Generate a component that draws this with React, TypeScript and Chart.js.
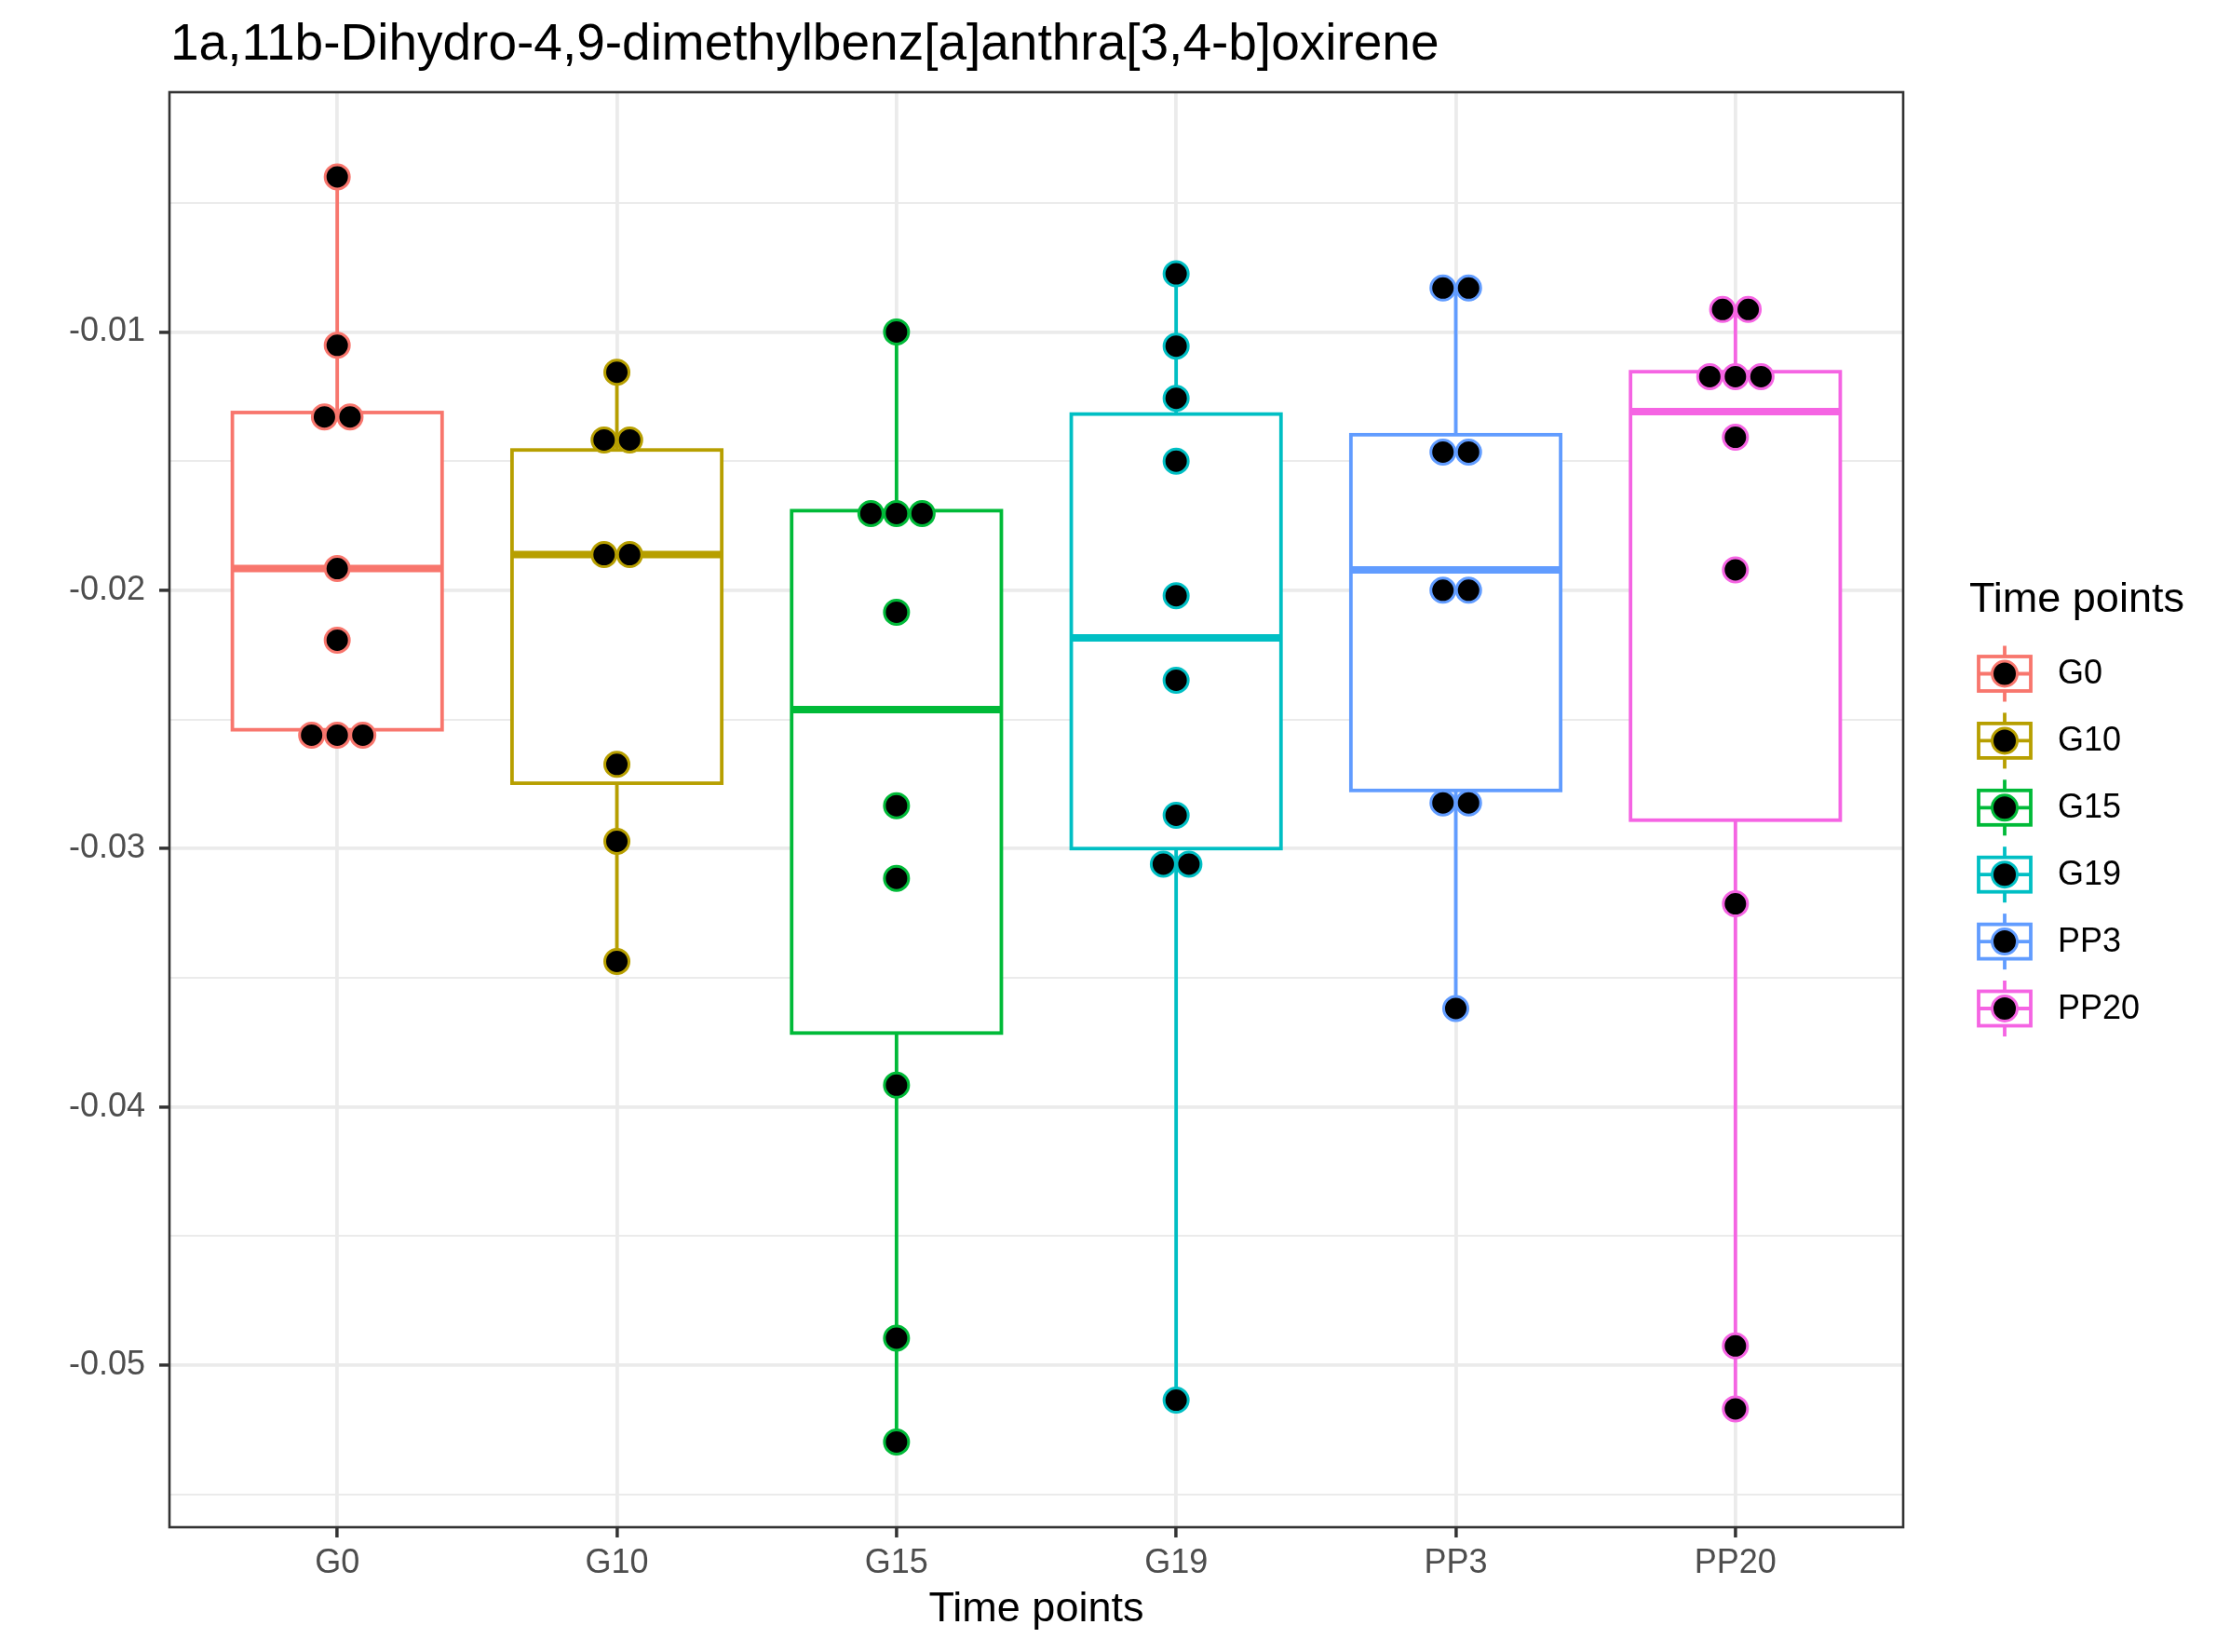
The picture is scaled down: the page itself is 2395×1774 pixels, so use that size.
import React, { useEffect, useRef } from 'react';
import { Chart, registerables } from 'chart.js';

Chart.register(...registerables);

// ---------------- data ----------------
const chartTitle = '1a,11b-Dihydro-4,9-dimethylbenz[a]anthra[3,4-b]oxirene';
const xAxisTitle = 'Time points';
const legendTitle = 'Time points';

const categories = ['G0', 'G10', 'G15', 'G19', 'PP3', 'PP20'];
const groupColors = ['#F8766D', '#B79F00', '#00BA38', '#00BFC4', '#619CFF', '#F564E3'];

// dot positions (repeated values are stacked side by side)
const dotsG0 = [-0.0040, -0.01052, -0.01329, -0.01329, -0.01916, -0.02193, -0.02561, -0.02561, -0.02561];
const dotsG10 = [-0.01156, -0.01418, -0.01418, -0.01862, -0.01862, -0.02674, -0.02972, -0.03437];
const dotsG15 = [-0.0100, -0.01703, -0.01703, -0.01703, -0.02085, -0.02834, -0.03115, -0.03916, -0.04895, -0.05297];
const dotsG19 = [-0.00775, -0.01055, -0.01257, -0.0150, -0.02021, -0.02348, -0.02871, -0.0306, -0.0306, -0.05135];
const dotsPP3 = [-0.0083, -0.0083, -0.01465, -0.01465, -0.0200, -0.0200, -0.02823, -0.02823, -0.03619];
const dotsPP20 = [-0.00913, -0.00913, -0.01173, -0.01173, -0.01173, -0.01408, -0.01921, -0.03214, -0.04925, -0.05169];
const dotSeries = [dotsG0, dotsG10, dotsG15, dotsG19, dotsPP3, dotsPP20];

// box statistics
const boxUpper = [-0.01312, -0.01457, -0.01692, -0.01318, -0.01398, -0.01154];
const boxMedian = [-0.01916, -0.01862, -0.02462, -0.02184, -0.01921, -0.01308];
const boxLower = [-0.0254, -0.02747, -0.03714, -0.0300, -0.02775, -0.0289];
const whiskerHigh = [-0.0040, -0.01156, -0.0100, -0.00775, -0.0083, -0.00913];
const whiskerLow = [-0.0254, -0.03437, -0.05297, -0.05135, -0.03619, -0.05169];

// axis ticks
const yMajorTicks = [-0.05, -0.04, -0.03, -0.02, -0.01];
const yMajorLabels = ['-0.05', '-0.04', '-0.03', '-0.02', '-0.01'];
const yMinorTicks = [-0.055, -0.045, -0.035, -0.025, -0.015, -0.005];
const yMin = -0.05627;
const yMax = -0.00072;

// ---------------- style / layout ----------------
const W = 2395;
const H = 1774;
const FONT = '"Liberation Sans", Arial, Helvetica, sans-serif';
const PANEL = { left: 182, top: 99, right: 2044, bottom: 1640 };
const BOX_HALF = 0.375;
const DOT_STEP = 0.0916;
const LINE_W = 3.8;
const MEDIAN_W = 8;

const isMajor = (v: number) => yMajorTicks.some((m) => Math.abs(m - v) < 1e-9);

function stackedPoints(values: number[], index: number) {
  const counts = new Map<number, number>();
  values.forEach((v) => counts.set(v, (counts.get(v) || 0) + 1));
  const seen = new Map<number, number>();
  return values.map((v) => {
    const n = counts.get(v) as number;
    const k = seen.get(v) || 0;
    seen.set(v, k + 1);
    return { x: index + (k - (n - 1) / 2) * DOT_STEP, y: v };
  });
}

function line(ctx: CanvasRenderingContext2D, x1: number, y1: number, x2: number, y2: number) {
  ctx.beginPath();
  ctx.moveTo(x1, y1);
  ctx.lineTo(x2, y2);
  ctx.stroke();
}

const ggPlugin = {
  id: 'ggBoxes',
  beforeDatasetsDraw(chart: any) {
    const { ctx, scales } = chart;
    const x = scales.x;
    const y = scales.y;
    ctx.save();
    ctx.lineCap = 'butt';
    ctx.lineJoin = 'miter';
    categories.forEach((_, i) => {
      const col = groupColors[i];
      const cx = x.getPixelForValue(i);
      const xl = x.getPixelForValue(i - BOX_HALF);
      const xr = x.getPixelForValue(i + BOX_HALF);
      const yU = y.getPixelForValue(boxUpper[i]);
      const yL = y.getPixelForValue(boxLower[i]);
      const yM = y.getPixelForValue(boxMedian[i]);
      const yWH = y.getPixelForValue(whiskerHigh[i]);
      const yWL = y.getPixelForValue(whiskerLow[i]);
      ctx.strokeStyle = col;
      ctx.lineWidth = LINE_W;
      line(ctx, cx, yWH, cx, yU);
      line(ctx, cx, yL, cx, yWL);
      ctx.fillStyle = '#FFFFFF';
      ctx.fillRect(xl, yU, xr - xl, yL - yU);
      ctx.strokeRect(xl, yU, xr - xl, yL - yU);
      ctx.lineWidth = MEDIAN_W;
      line(ctx, xl, yM, xr, yM);
    });
    ctx.restore();
  },
  afterDatasetsDraw(chart: any) {
    const { ctx, chartArea } = chart;
    ctx.save();
    ctx.strokeStyle = '#333333';
    ctx.lineWidth = 2.6;
    ctx.strokeRect(chartArea.left, chartArea.top, chartArea.right - chartArea.left, chartArea.bottom - chartArea.top);
    ctx.restore();
  },
  afterDraw(chart: any) {
    const { ctx, chartArea } = chart;
    ctx.save();
    // title
    ctx.fillStyle = '#000000';
    ctx.textAlign = 'left';
    ctx.textBaseline = 'alphabetic';
    ctx.font = `55px ${FONT}`;
    ctx.fillText(chartTitle, 183, 64);
    // x axis title
    ctx.font = `45px ${FONT}`;
    ctx.textAlign = 'center';
    ctx.fillText(xAxisTitle, (chartArea.left + chartArea.right) / 2, 1741);
    // legend
    ctx.textAlign = 'left';
    ctx.fillText(legendTitle, 2115, 657);
    const keyCx = 2153;
    const firstCy = 723.5;
    const stepY = 71.9;
    categories.forEach((cat, i) => {
      const cy = firstCy + i * stepY;
      const col = groupColors[i];
      ctx.strokeStyle = col;
      ctx.lineWidth = LINE_W;
      line(ctx, keyCx, cy - 30, keyCx, cy + 30);
      ctx.fillStyle = '#FFFFFF';
      ctx.fillRect(keyCx - 28, cy - 18.5, 56, 37);
      ctx.strokeRect(keyCx - 28, cy - 18.5, 56, 37);
      line(ctx, keyCx - 28, cy, keyCx + 28, cy);
      ctx.beginPath();
      ctx.arc(keyCx, cy, 13.5, 0, Math.PI * 2);
      ctx.fillStyle = '#000000';
      ctx.fill();
      ctx.lineWidth = 3;
      ctx.stroke();
      ctx.fillStyle = '#000000';
      ctx.font = `36px ${FONT}`;
      ctx.textBaseline = 'middle';
      ctx.fillText(cat, 2210, cy + 1);
      ctx.textBaseline = 'alphabetic';
      ctx.font = `45px ${FONT}`;
    });
    ctx.restore();
  },
};

export default function App() {
  const canvasRef = useRef<HTMLCanvasElement | null>(null);

  useEffect(() => {
    document.body.style.margin = '0';
    document.body.style.overflow = 'hidden';
    const canvas = canvasRef.current;
    if (!canvas) return;

    const datasets = categories.map((cat, i) => ({
      label: cat,
      data: stackedPoints(dotSeries[i], i),
      backgroundColor: '#000000',
      borderColor: groupColors[i],
      pointBackgroundColor: '#000000',
      pointBorderColor: groupColors[i],
      pointRadius: 13,
      pointHoverRadius: 13,
      pointBorderWidth: 3,
      showLine: false,
    }));

    const chart = new Chart(canvas, {
      type: 'scatter',
      data: { datasets },
      plugins: [ggPlugin],
      options: {
        responsive: false,
        animation: false,
        events: [],
        layout: {
          padding: { left: 0, top: PANEL.top, right: W - PANEL.right, bottom: 0 },
        },
        plugins: {
          legend: { display: false },
          tooltip: { enabled: false },
          title: { display: false },
        },
        scales: {
          x: {
            type: 'linear',
            min: -0.6,
            max: categories.length - 0.4,
            afterBuildTicks: (s: any) => {
              s.ticks = categories.map((_, i) => ({ value: i }));
            },
            afterFit: (s: any) => {
              s.height = H - PANEL.bottom;
            },
            ticks: {
              autoSkip: false,
              maxRotation: 0,
              minRotation: 0,
              padding: 6,
              color: '#4D4D4D',
              font: { size: 36, family: FONT },
              callback: (v: any) => categories[Math.round(Number(v))] ?? '',
            },
            grid: {
              color: '#EBEBEB',
              lineWidth: LINE_W,
              tickLength: 11,
              tickColor: '#333333',
              tickWidth: 3.5,
            },
            border: { display: false },
          },
          y: {
            type: 'linear',
            min: yMin,
            max: yMax,
            afterBuildTicks: (s: any) => {
              const all = [...yMajorTicks, ...yMinorTicks].sort((a, b) => a - b);
              s.ticks = all.map((v) => ({ value: v }));
            },
            afterFit: (s: any) => {
              s.width = PANEL.left;
            },
            ticks: {
              autoSkip: false,
              padding: 15,
              color: '#4D4D4D',
              font: { size: 36, family: FONT },
              callback: (v: any) => {
                const idx = yMajorTicks.findIndex((m) => Math.abs(m - Number(v)) < 1e-9);
                return idx >= 0 ? yMajorLabels[idx] : '';
              },
            },
            grid: {
              color: '#EBEBEB',
              lineWidth: (c: any) => (isMajor(c.tick?.value) ? LINE_W : 2),
              tickLength: 11,
              tickColor: (c: any) => (isMajor(c.tick?.value) ? '#333333' : 'rgba(0,0,0,0)'),
              tickWidth: 3.5,
            },
            border: { display: false },
          },
        },
      },
    } as any);

    return () => {
      chart.destroy();
    };
  }, []);

  return (
    <div style={{ width: W, height: H, background: '#FFFFFF' }}>
      <canvas ref={canvasRef} width={W} height={H} style={{ display: 'block' }} />
    </div>
  );
}
